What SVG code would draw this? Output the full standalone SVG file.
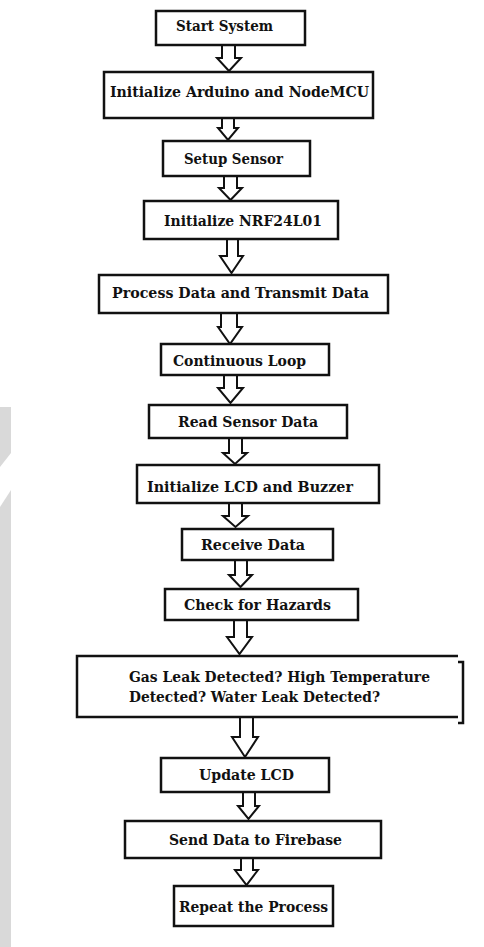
<svg xmlns="http://www.w3.org/2000/svg" width="484" height="947" viewBox="0 0 484 947">
<style>
.box{fill:#fff;stroke:#111;stroke-width:2.5}
.arr{fill:#fff;stroke:#111;stroke-width:2;stroke-linejoin:miter}
.t{font-family:"DejaVu Serif","Liberation Serif",serif;font-weight:bold;font-size:14px;fill:#111}
.bg{fill:#d9d9d9}
</style>
<rect width="484" height="947" fill="#fff"/>
<polygon class="bg" points="0,407 11,407 11,453 0,467"/>
<polygon class="bg" points="0,507 11,490 11,947 0,947"/>
<g id="connectors">
<path class="arr" d="M222,45 V58 H217 L229,71 L241,58 H235 V45"/>
<path class="arr" d="M222,118 V128 H218 L228,140 L238,128 H234 V118"/>
<path class="arr" d="M224,176 V188 H219 L230.5,200 L242,188 H237 V176"/>
<path class="arr" d="M227,239 V256 H220 L231.5,273 L243,256 H238 V239"/>
<path class="arr" d="M221,313 V327 H218 L230,344 L242,327 H237 V313"/>
<path class="arr" d="M224,375 V388 H218 L230.5,403 L243,388 H237 V375"/>
<path class="arr" d="M229,438 V453 H223 L235,464 L247,453 H242 V438"/>
<path class="arr" d="M229,503 V516 H223 L235.5,527 L248,516 H242 V503"/>
<path class="arr" d="M235,560 V575 H229 L240.5,587 L252,575 H247 V560"/>
<path class="arr" d="M234,620 V637 H227 L239.5,654 L252,637 H247 V620"/>
<path class="arr" d="M240,717 V737 H232 L245,757 L258,737 H253 V717"/>
<path class="arr" d="M243,792 V806 H238 L248.5,819 L259,806 H255 V792"/>
<path class="arr" d="M241,858 V870 H235 L246.5,885 L258,870 H253 V858"/>
</g>
<g id="n1"><rect class="box" x="156" y="11" width="149" height="34"/><text class="t" x="176" y="31" textLength="97" lengthAdjust="spacingAndGlyphs">Start System</text></g>
<g id="n2"><rect class="box" x="104" y="72" width="269" height="46"/><text class="t" x="110" y="97" textLength="259" lengthAdjust="spacingAndGlyphs">Initialize Arduino and NodeMCU</text></g>
<g id="n3"><rect class="box" x="163" y="141" width="147" height="35"/><text class="t" x="184" y="164" textLength="99" lengthAdjust="spacingAndGlyphs">Setup Sensor</text></g>
<g id="n4"><rect class="box" x="144" y="201" width="194" height="38"/><text class="t" x="164" y="226" textLength="158" lengthAdjust="spacingAndGlyphs">Initialize NRF24L01</text></g>
<g id="n5"><rect class="box" x="99" y="275" width="289" height="38"/><text class="t" x="112" y="298" textLength="257" lengthAdjust="spacingAndGlyphs">Process Data and Transmit Data</text></g>
<g id="n6"><rect class="box" x="161" y="344" width="168" height="31"/><text class="t" x="173" y="366" textLength="133" lengthAdjust="spacingAndGlyphs">Continuous Loop</text></g>
<g id="n7"><rect class="box" x="149" y="405" width="198" height="33"/><text class="t" x="178" y="427" textLength="140" lengthAdjust="spacingAndGlyphs">Read Sensor Data</text></g>
<g id="n8"><rect class="box" x="137" y="465" width="242" height="38"/><text class="t" x="147" y="492" textLength="206" lengthAdjust="spacingAndGlyphs">Initialize LCD and Buzzer</text></g>
<g id="n9"><rect class="box" x="182" y="529" width="151" height="31"/><text class="t" x="201" y="550" textLength="104" lengthAdjust="spacingAndGlyphs">Receive Data</text></g>
<g id="n10"><rect class="box" x="165" y="589" width="193" height="31"/><text class="t" x="184" y="610" textLength="147" lengthAdjust="spacingAndGlyphs">Check for Hazards</text></g>
<g id="n11">
<rect x="77" y="656" width="381" height="61" fill="#fff"/>
<path d="M458,656 H77 V717 H458" fill="none" stroke="#111" stroke-width="2.5"/>
<path d="M458,662 H463 V723 H458" fill="none" stroke="#111" stroke-width="2.5"/>
<text class="t" x="129" y="682" textLength="301" lengthAdjust="spacingAndGlyphs">Gas Leak Detected? High Temperature</text>
<text class="t" x="129" y="702" textLength="251" lengthAdjust="spacingAndGlyphs">Detected? Water Leak Detected?</text>
</g>
<g id="n12"><rect class="box" x="161" y="758" width="168" height="34"/><text class="t" x="199" y="780" textLength="95" lengthAdjust="spacingAndGlyphs">Update LCD</text></g>
<g id="n13"><rect class="box" x="125" y="821" width="256" height="37"/><text class="t" x="169" y="845" textLength="173" lengthAdjust="spacingAndGlyphs">Send Data to Firebase</text></g>
<g id="n14"><rect class="box" x="174" y="886" width="159" height="40"/><text class="t" x="179" y="912" textLength="149" lengthAdjust="spacingAndGlyphs">Repeat the Process</text></g>
</svg>
